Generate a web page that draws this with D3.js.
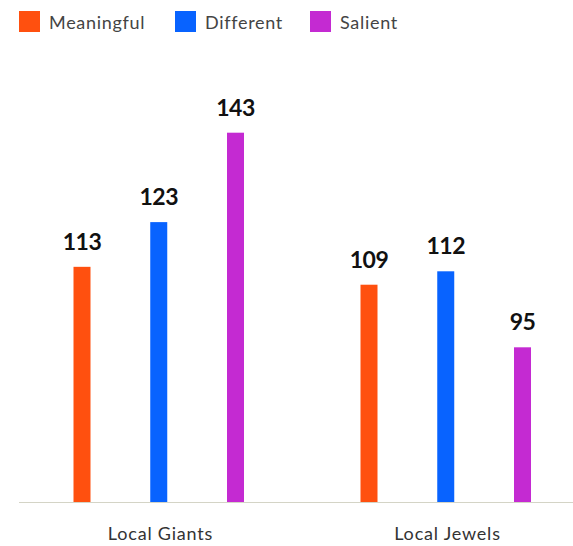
<!DOCTYPE html>
<html>
<head>
<meta charset="utf-8">
<script src="https://cdn.jsdelivr.net/npm/d3@7"></script>
<style>
  html, body { margin: 0; padding: 0; background: #ffffff; }
  svg { display: block; font-family: Lato, "Open Sans", sans-serif; }
</style>
</head>
<body>
<svg id="chart" width="573" height="546"></svg>
<script>
const categories = ["Local Giants", "Local Jewels"];
const seriesNames = ["Meaningful", "Different", "Salient"];
const seriesColors = ["#ff500f", "#0863ff", "#c42ad2"];
const meaningful = [113, 109];
const different = [123, 112];
const salient = [143, 95];
const seriesValues = [meaningful, different, salient];

const svg = d3.select("#chart");
const baseY = 502;

const x = d3.scaleBand().domain(categories).range([15, 589]);
const xInner = d3.scalePoint().domain(seriesNames).range([-76.5, 77]);
const y = d3.scaleLinear().domain([60.4, 143]).range([baseY, 132.7]);
const barW = 17;

// baseline
svg.append("line")
  .attr("x1", 19).attr("x2", 573)
  .attr("y1", baseY + 0.5).attr("y2", baseY + 0.5)
  .attr("stroke", "#d4d4c6").attr("stroke-width", 1);

// bars
const rows = [];
categories.forEach((c, ci) => {
  seriesNames.forEach((s, si) => {
    rows.push({cat: c, series: s, value: seriesValues[si][ci], color: seriesColors[si]});
  });
});

const cx = d => x(d.cat) + x.bandwidth() / 2 + xInner(d.series);

svg.selectAll("rect.bar").data(rows).enter().append("rect")
  .attr("class", "bar")
  .attr("x", d => cx(d) - barW / 2)
  .attr("width", barW)
  .attr("y", d => y(d.value))
  .attr("height", d => baseY - y(d.value))
  .attr("fill", d => d.color);

svg.selectAll("text.val").data(rows).enter().append("text")
  .attr("class", "val")
  .attr("x", d => cx(d))
  .attr("y", d => y(d.value) - 17)
  .attr("text-anchor", "middle")
  .attr("font-size", 23)
  .attr("font-weight", 700)
  .attr("letter-spacing", -0.5)
  .attr("fill", "#111")
  .text(d => d.value);

// category labels
svg.selectAll("text.cat").data(categories).enter().append("text")
  .attr("class", "cat")
  .attr("x", d => x(d) + x.bandwidth() / 2 + 2)
  .attr("y", 540)
  .attr("text-anchor", "middle")
  .attr("font-size", 18)
  .attr("letter-spacing", 0.8)
  .attr("fill", "#333")
  .text(d => d);

// legend
const legendX = [19, 175, 310];
const lg = svg.selectAll("g.leg").data(seriesNames).enter().append("g")
  .attr("class", "leg")
  .attr("transform", (d, i) => `translate(${legendX[i]},11)`);
lg.append("rect").attr("width", 21).attr("height", 21)
  .attr("fill", (d, i) => seriesColors[i]);
lg.append("text").attr("x", 30).attr("y", 18)
  .attr("font-size", 18).attr("letter-spacing", 0.7).attr("fill", "#444")
  .text(d => d);
</script>
</body>
</html>
